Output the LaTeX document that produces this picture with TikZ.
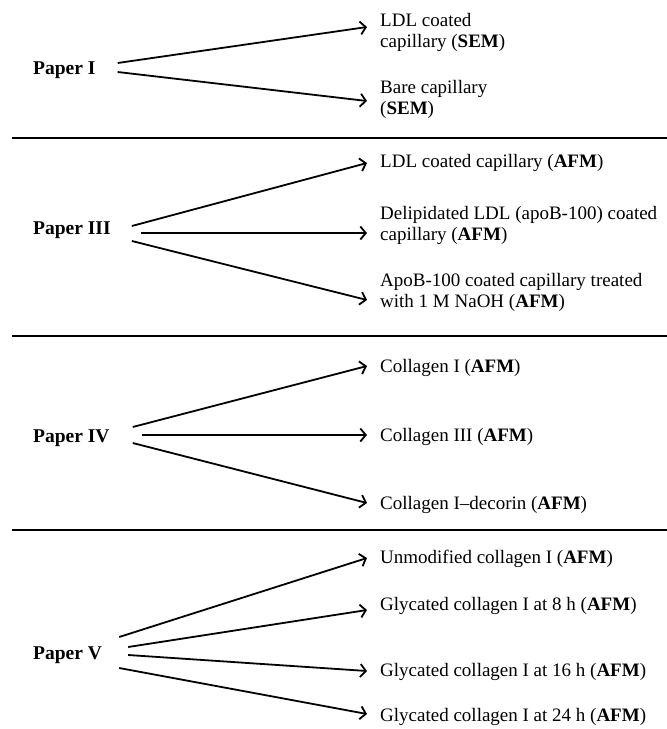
\documentclass[tikz,border=0pt]{standalone}
\usepackage{fontspec}
\setmainfont{Liberation Serif}
\usetikzlibrary{arrows.meta}

\tikzset{
  paper/.style={anchor=west, inner sep=0pt, font=\fontsize{19.5}{21}\selectfont\bfseries},
  result/.style={anchor=west, inner sep=0pt, align=left, font=\fontsize{19}{21}\selectfont},
  arr/.style={line width=1.8pt, -{Straight Barb[length=5.5pt,width=13pt]}},
  divider/.style={line width=1.8pt}
}

\begin{document}
\begin{tikzpicture}[x=1pt, y=-1pt]
		\useasboundingbox (0,0) rectangle (667,729);
		\node[paper] (p1) at (33,70) {Paper I};
		\node[result] (r1) at (380,32) {LDL coated\\capillary (\textbf{SEM})};
		\node[result] (r2) at (380,99) {Bare capillary\\(\textbf{SEM})};
		\draw[arr] ([shift={(22pt,7pt)}]p1.east) -- ([shift={(-13pt,5pt)}]r1.west);
		\draw[arr] ([shift={(22pt,-2pt)}]p1.east) -- ([shift={(-13pt,-2pt)}]r2.west);
		\draw[divider] (12,138) -- (667,138);

		\node[paper] (p3) at (33,230) {Paper III};
		\node[result] (r3) at (380,163) {LDL coated capillary (\textbf{AFM})};
		\node[result] (r4) at (380,225) {Delipidated LDL (apoB-100) coated\\capillary (\textbf{AFM})};
		\node[result] (r5) at (380,292) {ApoB-100 coated capillary treated\\with 1 M NaOH (\textbf{AFM})};
		\draw[arr] ([shift={(21pt,4pt)}]p3.east) -- ([shift={(-13pt,0pt)}]r3.west);
		\draw[arr] ([shift={(30pt,-3pt)}]p3.east) -- ([shift={(-13pt,-8pt)}]r4.west);
		\draw[arr] ([shift={(21pt,-11pt)}]p3.east) -- ([shift={(-13pt,-8pt)}]r5.west);
		\draw[divider] (12,336) -- (667,336);

		\node[paper] (p4) at (33,438) {Paper IV};
		\node[result] (r6) at (380,368) {Collagen I (\textbf{AFM})};
		\node[result] (r7) at (380,437) {Collagen III (\textbf{AFM})};
		\node[result] (r8) at (380,505) {Collagen I--decorin (\textbf{AFM})};
		\draw[arr] ([shift={(23pt,11pt)}]p4.east) -- ([shift={(-13pt,2pt)}]r6.west);
		\draw[arr] ([shift={(32pt,3pt)}]p4.east) -- ([shift={(-13pt,2pt)}]r7.west);
		\draw[arr] ([shift={(23pt,-5pt)}]p4.east) -- ([shift={(-13pt,2pt)}]r8.west);
		\draw[divider] (12,530) -- (667,530);

		\node[paper] (p5) at (33,655) {Paper V};
		\node[result] (r9) at (380,559) {Unmodified collagen I (\textbf{AFM})};
		\node[result] (r10) at (380,606) {Glycated collagen I at 8 h (\textbf{AFM})};
		\node[result] (r11) at (380,672) {Glycated collagen I at 16 h (\textbf{AFM})};
		\node[result] (r12) at (380,717) {Glycated collagen I at 24 h (\textbf{AFM})};
		\draw[arr] ([shift={(17pt,18pt)}]p5.east) -- ([shift={(-13pt,1pt)}]r9.west);
		\draw[arr] ([shift={(26pt,8pt)}]p5.east) -- ([shift={(-13pt,-4pt)}]r10.west);
		\draw[arr] ([shift={(26pt,0pt)}]p5.east) -- ([shift={(-13pt,1pt)}]r11.west);
		\draw[arr] ([shift={(17pt,-13pt)}]p5.east) -- ([shift={(-13pt,3pt)}]r12.west);
	\end{tikzpicture}
\end{document}
